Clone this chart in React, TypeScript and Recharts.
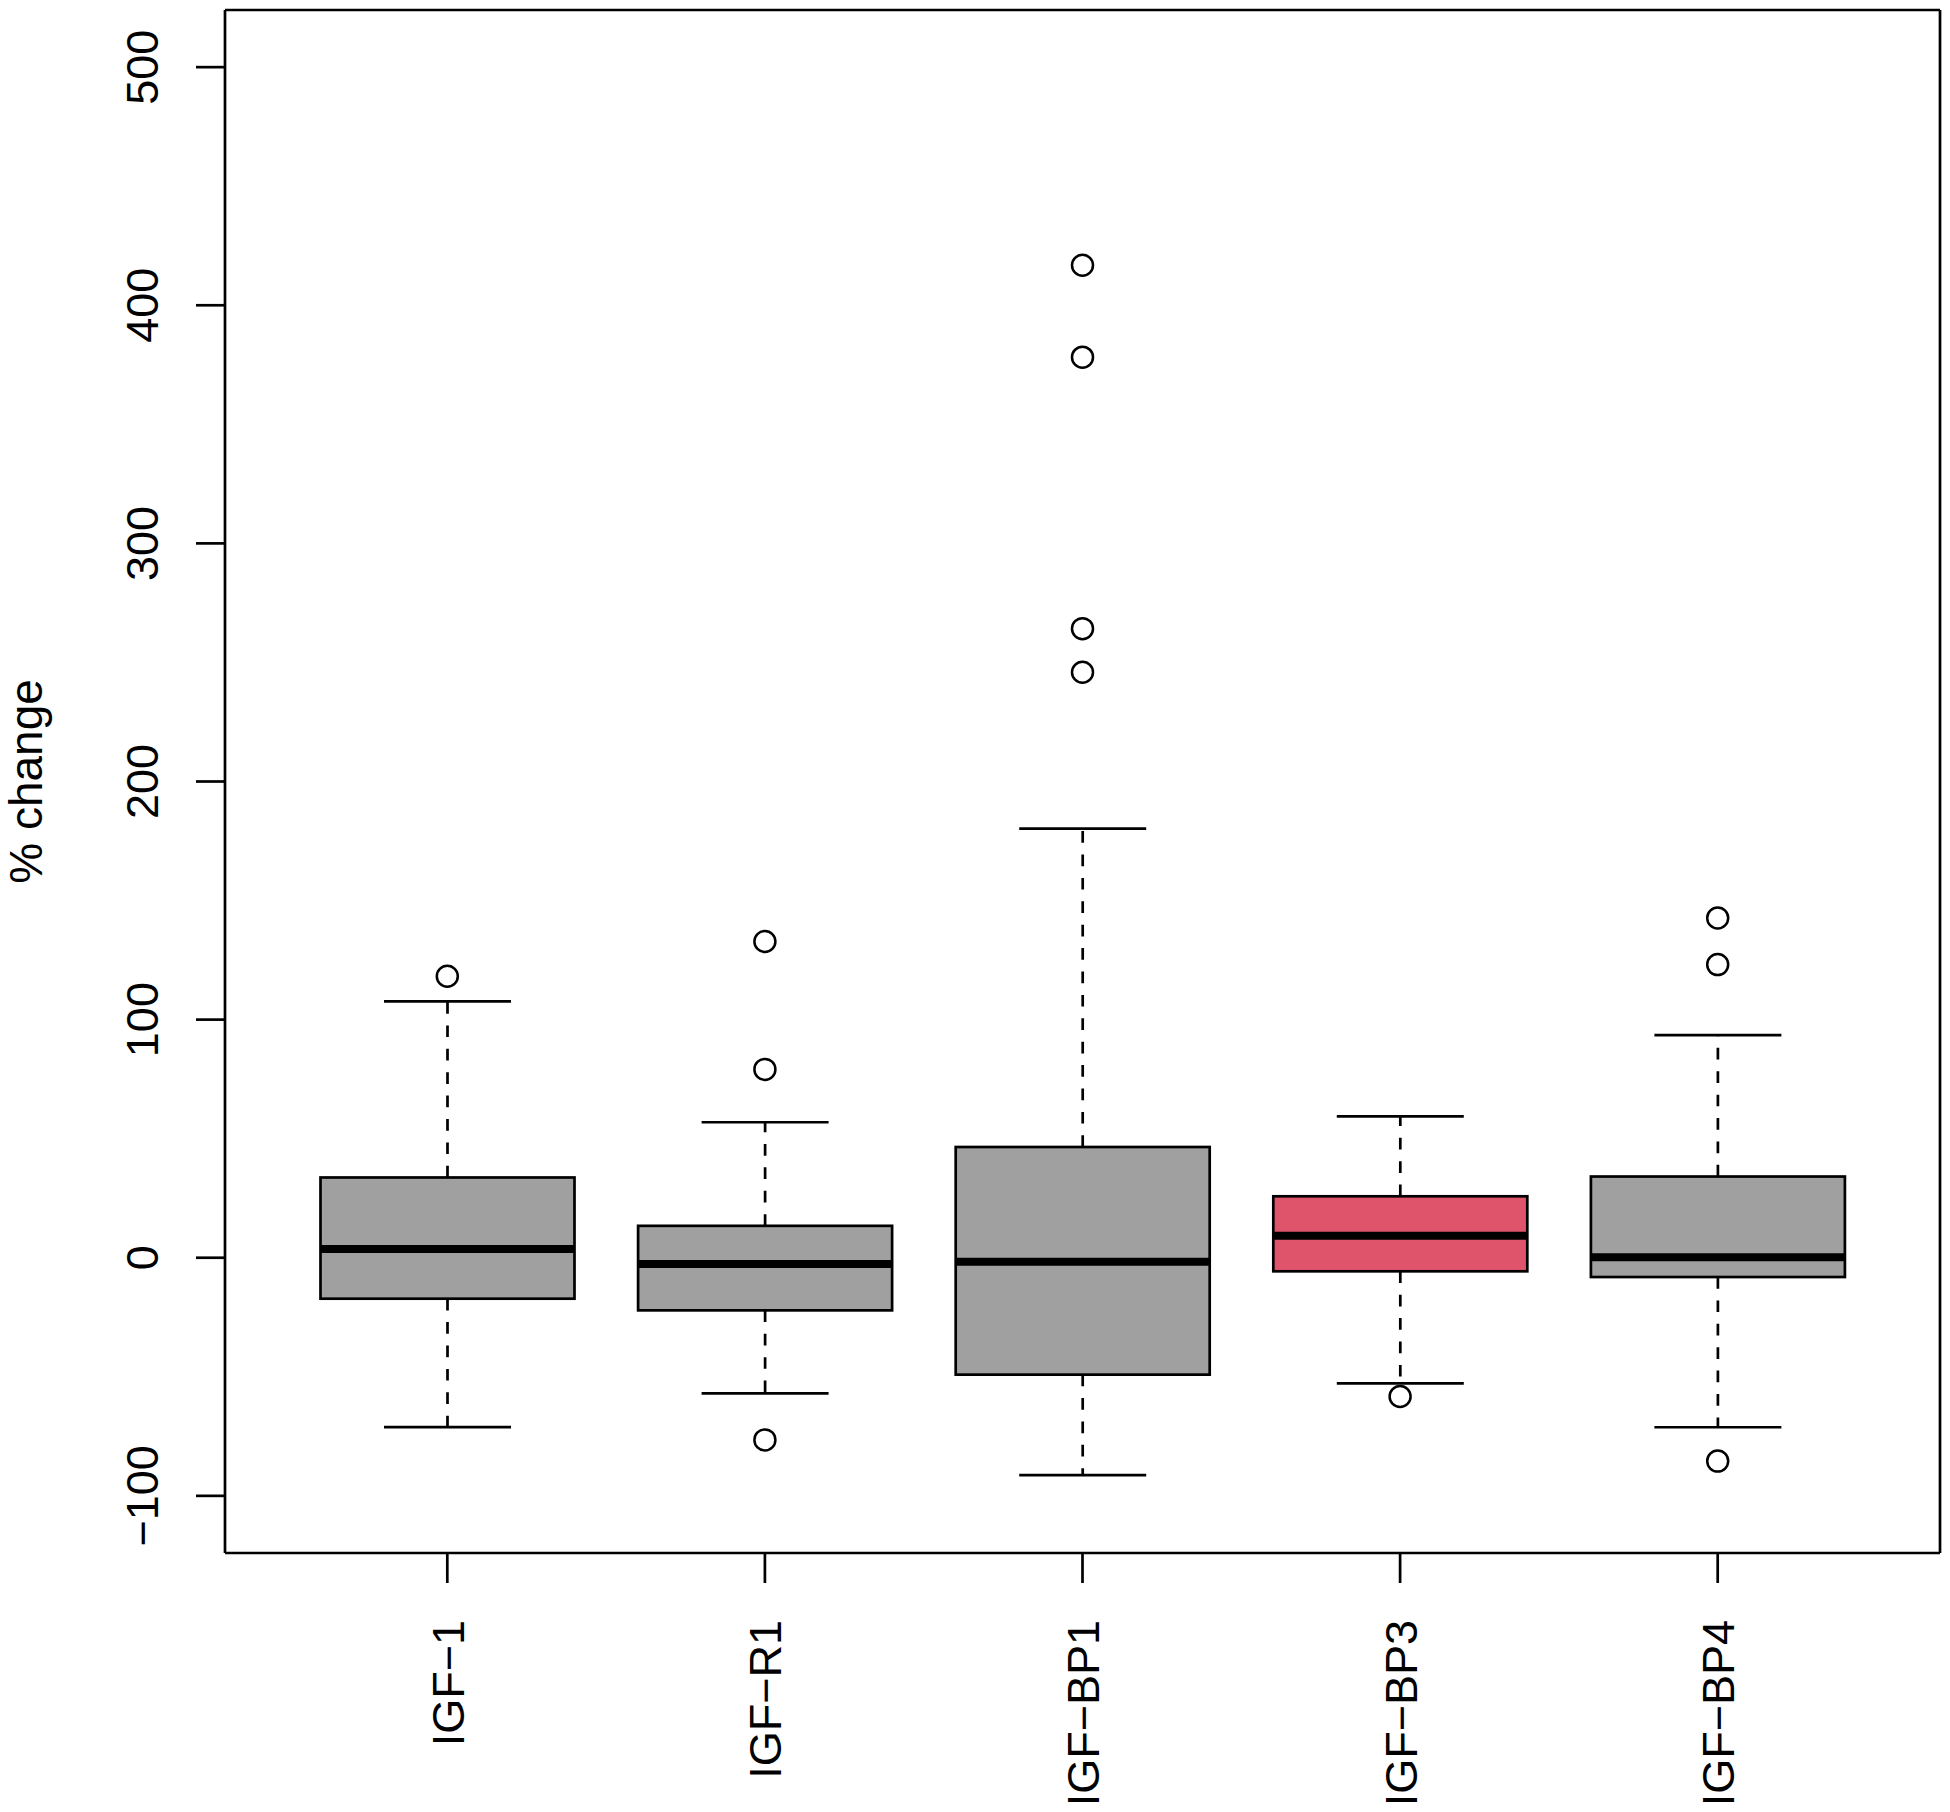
import React from "react"
import { ComposedChart, Bar, Scatter, XAxis, YAxis } from "recharts"

// boxplot stats (% change)
const categories = ["IGF−1", "IGF−R1", "IGF−BP1", "IGF−BP3", "IGF−BP4"]
const whiskerLow = [-71.1, -57.0, -91.3, -52.8, -71.2]
const lowerQuartile = [-17.2, -22.1, -49.1, -5.7, -8.1]
const medians = [3.7, -2.6, -1.7, 9.2, 0.2]
const upperQuartile = [33.7, 13.4, 46.5, 25.8, 34.1]
const whiskerHigh = [107.7, 56.9, 180.2, 59.4, 93.5]
const outliers = [
  [118.2],
  [132.8, 79.1, -76.5],
  [416.8, 378.2, 264.2, 245.9],
  [-58.3],
  [142.7, 123.1, -85.4],
]
const yTicks = [-100, 0, 100, 200, 300, 400, 500]
const highlighted = "IGF−BP3"

const FONT = "'Liberation Sans', Arial, Helvetica, sans-serif"
const LINE = 2.7
const maxOut = Math.max(...outliers.map((o) => o.length))

const rows = categories.map((name, i) => {
  const row: any = {
    name,
    low: whiskerLow[i],
    q1: lowerQuartile[i],
    med: medians[i],
    q3: upperQuartile[i],
    high: whiskerHigh[i],
  }
  for (let k = 0; k < maxOut; k++) row["o" + k] = outliers[i][k] ?? null
  return row
})

function BoxShape(props: any) {
  const { x, y, width, height, payload } = props
  const top = Math.min(y, y + height)
  const bottom = Math.max(y, y + height)
  const ppu = (bottom - top) / (payload.q3 - payload.q1)
  const toY = (v: number) => top + (payload.q3 - v) * ppu
  const cx = x + width / 2
  const cap = width / 4
  const fill = payload.name === highlighted ? "#DF536B" : "#A0A0A0"
  return (
    <g>
      <line x1={cx} x2={cx} y1={top} y2={toY(payload.high)} stroke="#000" strokeWidth={LINE} strokeDasharray="11.7 11.7" />
      <line x1={cx} x2={cx} y1={bottom} y2={toY(payload.low)} stroke="#000" strokeWidth={LINE} strokeDasharray="11.7 11.7" />
      <line x1={cx - cap} x2={cx + cap} y1={toY(payload.high)} y2={toY(payload.high)} stroke="#000" strokeWidth={LINE} />
      <line x1={cx - cap} x2={cx + cap} y1={toY(payload.low)} y2={toY(payload.low)} stroke="#000" strokeWidth={LINE} />
      <rect x={x} y={top} width={width} height={bottom - top} fill={fill} stroke="#000" strokeWidth={LINE} />
      <line x1={x} x2={x + width} y1={toY(payload.med)} y2={toY(payload.med)} stroke="#000" strokeWidth={8} />
    </g>
  )
}

const outlierShape = (key: string) => (props: any) => {
  if (props.payload == null || props.payload[key] == null) return <g />
  return <circle cx={props.cx} cy={props.cy} r={10.5} fill="none" stroke="#000" strokeWidth={2.5} />
}

function XTick({ x, y, payload }: any) {
  return (
    <text transform={`translate(${x + 16.5},${y + 37}) rotate(-90)`} textAnchor="end" fontSize={45} fontFamily={FONT} fill="#000">
      {payload.value}
    </text>
  )
}

function YTick({ x, y, payload }: any) {
  const v = payload.value
  const label = v < 0 ? "−" + Math.abs(v) : String(v)
  return (
    <text transform={`translate(${x - 38},${y}) rotate(-90)`} textAnchor="middle" fontSize={45} fontFamily={FONT} fill="#000">
      {label}
    </text>
  )
}

export default function App() {
  return (
    <div style={{ position: "absolute", left: 0, top: 0, background: "#fff" }}>
      <ComposedChart width={1950} height={1812} data={rows} margin={{ top: 9, right: 9, bottom: 0, left: 0 }}>
        <XAxis
          dataKey="name"
          type="category"
          allowDuplicatedCategory={false}
          interval={0}
          padding={{ left: 63.5, right: 63.5 }}
          height={259}
          tickSize={30}
          tickMargin={0}
          tick={<XTick />}
          tickLine={{ stroke: "#000", strokeWidth: LINE }}
          axisLine={{ stroke: "#000", strokeWidth: LINE }}
        />
        <XAxis
          xAxisId="top"
          orientation="top"
          dataKey="name"
          allowDuplicatedCategory={false}
          height={1}
          tick={false}
          tickLine={false}
          axisLine={{ stroke: "#000", strokeWidth: LINE }}
        />
        <YAxis
          type="number"
          domain={[-124, 524]}
          allowDataOverflow
          ticks={yTicks}
          interval={0}
          width={225}
          tickSize={29}
          tickMargin={0}
          tick={<YTick />}
          tickLine={{ stroke: "#000", strokeWidth: LINE }}
          axisLine={{ stroke: "#000", strokeWidth: LINE }}
          label={{
            content: ({ viewBox }: any) => (
              <text
                transform={`translate(42,${viewBox.y + viewBox.height / 2}) rotate(-90)`}
                textAnchor="middle"
                fontSize={46}
                fontFamily={FONT}
                fill="#000"
              >
                % change
              </text>
            ),
          }}
        />
        <YAxis
          yAxisId="right"
          orientation="right"
          type="number"
          domain={[-124, 524]}
          width={1}
          tick={false}
          tickLine={false}
          axisLine={{ stroke: "#000", strokeWidth: LINE }}
        />
        <Bar dataKey={(d: any) => [d.q1, d.q3]} barSize={254} shape={<BoxShape />} isAnimationActive={false} />
        {Array.from({ length: maxOut }, (_, k) => (
          <Scatter key={k} dataKey={"o" + k} shape={outlierShape("o" + k)} isAnimationActive={false} />
        ))}
      </ComposedChart>
    </div>
  )
}
